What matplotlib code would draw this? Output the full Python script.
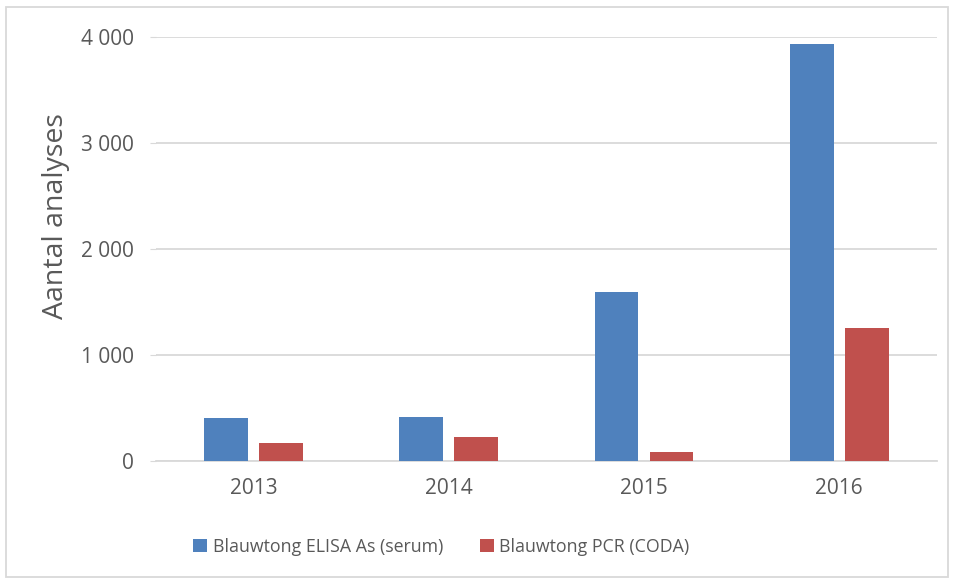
import matplotlib
matplotlib.use("Agg")
import matplotlib.pyplot as plt
import numpy as np
from matplotlib.ticker import FuncFormatter
from matplotlib.patches import Rectangle, Patch

plt.rcParams['font.family'] = ['Open Sans', 'DejaVu Sans']

years = ["2013", "2014", "2015", "2016"]
elisa = [403, 418, 1594, 3928]
pcr = [167, 226, 85, 1255]
series_names = ["Blauwtong ELISA As (serum)", "Blauwtong PCR (CODA)"]

blue = "#4F81BD"
red = "#C0504D"
text_col = "#595959"
grid_col = "#D9D9D9"

fig = plt.figure(figsize=(9.54, 5.8), dpi=100)
ax = fig.add_axes([0.1635, 0.205, 0.8185, 0.7317])

x = np.arange(len(years))
w = 0.225
off = 0.141
ax.bar(x - off, elisa, width=w, color=blue, zorder=3)
ax.bar(x + off, pcr, width=w, color=red, zorder=3)

ax.set_xlim(-0.5, len(years) - 0.5)
ax.set_ylim(0, 4000)
ax.set_yticks([0, 1000, 2000, 3000, 4000])
ax.yaxis.set_major_formatter(FuncFormatter(lambda v, p: f"{int(v):,}".replace(",", " ")))
ax.set_xticks(x)
ax.set_xticklabels(years)

ax.grid(axis='y', color=grid_col, linewidth=1.3, zorder=0)
for s in ["top", "right", "left"]:
    ax.spines[s].set_visible(False)
ax.spines["bottom"].set_color(grid_col)
ax.spines["bottom"].set_linewidth(1.3)

ax.tick_params(axis='y', length=4, color=grid_col, labelcolor=text_col, labelsize=15, pad=12)
ax.tick_params(axis='x', length=0, labelcolor=text_col, labelsize=15, pad=12)

fig.text(56 / 954, 1 - 216 / 580, "Aantal analyses", rotation=90, color=text_col,
         fontsize=20.5, ha='center', va='center')

handles = [Patch(facecolor=blue), Patch(facecolor=red)]
fig.legend(handles, series_names, loc='center', bbox_to_anchor=(0.4628, 0.0575), ncol=2,
           frameon=False, fontsize=12.8, labelcolor=text_col, handlelength=0.78,
           handleheight=0.78, handletextpad=0.32, columnspacing=2.05)

fig.add_artist(Rectangle((0.006, 0.006), 0.988, 0.982, transform=fig.transFigure,
                         fill=False, edgecolor=grid_col, linewidth=1.3))

fig.savefig("out.png", dpi=100)
